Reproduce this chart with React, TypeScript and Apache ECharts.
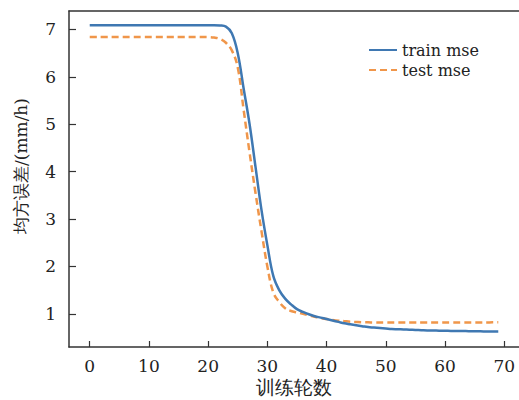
import React, { useEffect, useRef } from "react";
import * as echarts from "echarts";

const epochs: number[] = Array.from({ length: 70 }, (_, i) => i);

const trainMse: number[] = [
  7.09, 7.09, 7.09, 7.09, 7.09, 7.09, 7.09, 7.09, 7.09, 7.09,
  7.09, 7.09, 7.09, 7.09, 7.09, 7.09, 7.09, 7.09, 7.09, 7.09,
  7.09, 7.09, 7.085, 7.06, 6.92, 6.5, 5.75, 5.0, 4.1, 3.2,
  2.45, 1.8, 1.5, 1.32, 1.2, 1.1, 1.04, 0.99, 0.95, 0.92,
  0.89, 0.86, 0.83, 0.8, 0.78, 0.76, 0.74, 0.72, 0.71, 0.7,
  0.69, 0.68, 0.675, 0.67, 0.665, 0.66, 0.655, 0.65, 0.648, 0.645,
  0.642, 0.64, 0.638, 0.636, 0.634, 0.632, 0.63, 0.628, 0.626, 0.625,
];

const testMse: number[] = [
  6.84, 6.84, 6.84, 6.84, 6.84, 6.84, 6.84, 6.84, 6.84, 6.84,
  6.84, 6.84, 6.84, 6.84, 6.84, 6.84, 6.84, 6.84, 6.84, 6.84,
  6.84, 6.83, 6.8, 6.72, 6.56, 6.2, 5.3, 4.4, 3.55, 2.75,
  2.0, 1.45, 1.25, 1.12, 1.06, 1.03, 1.0, 0.97, 0.94, 0.91,
  0.89, 0.87, 0.855, 0.845, 0.835, 0.828, 0.822, 0.82, 0.818, 0.816,
  0.815, 0.815, 0.815, 0.815, 0.815, 0.815, 0.816, 0.816, 0.816, 0.816,
  0.817, 0.817, 0.817, 0.818, 0.818, 0.818, 0.819, 0.819, 0.82, 0.82,
];

const xTicks: number[] = [0, 10, 20, 30, 40, 50, 60, 70];
const yTicks: number[] = [1, 2, 3, 4, 5, 6, 7];
const seriesNames: string[] = ["train mse", "test mse"];
const xName = "训练轮数";
const yName = "均方误差/(mm/h)";

const SERIF = "DejaVu Serif";

export default function App() {
  const ref = useRef<HTMLDivElement>(null);
  useEffect(() => {
    if (!ref.current) return;
    const chart = echarts.init(ref.current, undefined, { renderer: "svg" });
    const axisLineStyle = { color: "#333", width: 1.5 };
    chart.setOption({
      animation: false,
      backgroundColor: "#fff",
      grid: { left: 69, top: 11, right: 0, bottom: 53, containLabel: false },
      legend: {
        orient: "vertical",
        left: 363,
        top: 35,
        itemWidth: 28,
        itemHeight: 14,
        itemGap: 0,
        data: seriesNames,
        itemStyle: { opacity: 0 },
        textStyle: { fontFamily: SERIF, fontSize: 16, color: "#222", lineHeight: 20 },
      },
      xAxis: [
        {
          type: "value",
          min: -3.5,
          max: 72.5,
          axisLine: { show: true, lineStyle: axisLineStyle },
          axisTick: { show: true, inside: true, length: 6, customValues: xTicks, lineStyle: { color: "#333", width: 1.2 } },
          axisLabel: { customValues: xTicks, margin: 10, fontFamily: SERIF, fontSize: 17, color: "#222" },
          splitLine: { show: false },
        },
        {
          type: "value",
          position: "top",
          min: -3.5,
          max: 72.5,
          axisLine: { show: true, onZero: false, lineStyle: axisLineStyle },
          axisTick: { show: false },
          axisLabel: { show: false },
          splitLine: { show: false },
        },
      ],
      yAxis: {
        type: "value",
        min: 0.3,
        max: 7.39,
        axisLine: { show: true, onZero: false, lineStyle: axisLineStyle },
        axisTick: { show: true, inside: true, length: 7, customValues: yTicks, lineStyle: { color: "#333", width: 1.2 } },
        axisLabel: { customValues: yTicks, margin: 13, fontFamily: SERIF, fontSize: 17, color: "#222" },
        splitLine: { show: false },
      },
      graphic: [
        {
          type: "text",
          x: 294,
          y: 387,
          style: {
            text: xName,
            fontFamily: SERIF,
            fontSize: 19,
            fill: "#222",
            align: "center",
            verticalAlign: "middle",
          },
        },
        {
          type: "text",
          x: 21,
          y: 166,
          rotation: Math.PI / 2,
          style: {
            text: yName,
            fontFamily: SERIF,
            fontSize: 17,
            fill: "#222",
            align: "center",
            verticalAlign: "middle",
          },
        },
      ],
      series: [
        {
          name: seriesNames[0],
          type: "line",
          data: epochs.map((e, i) => [e, trainMse[i]]),
          symbol: "none",
          smooth: 0.4,
          lineStyle: { color: "#3f78b2", width: 2.5 },
          itemStyle: { color: "#3f78b2" },
          z: 3,
        },
        {
          name: seriesNames[1],
          type: "line",
          data: epochs.map((e, i) => [e, testMse[i]]),
          symbol: "none",
          smooth: 0.4,
          lineStyle: { color: "#f0964a", width: 2.5, type: [7, 4] },
          itemStyle: { color: "#f0964a" },
          z: 2,
        },
      ],
    });
    return () => chart.dispose();
  }, []);
  return (
    <div
      ref={ref}
      style={{ position: "absolute", left: 0, top: 0, width: 519, height: 400, background: "#fff" }}
    />
  );
}
